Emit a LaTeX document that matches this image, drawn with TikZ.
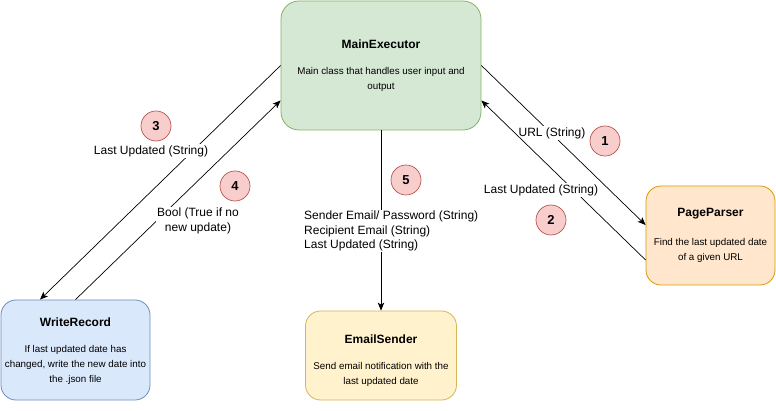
\documentclass[tikz,border=0pt]{standalone}
\usepackage{fontspec}
\setmainfont{Liberation Sans}
\usetikzlibrary{arrows.meta}
\definecolor{gfill}{HTML}{D5E8D4}\definecolor{gdraw}{HTML}{82B366}
\definecolor{ofill}{HTML}{FFE6CC}\definecolor{odraw}{HTML}{D79B00}
\definecolor{bfill}{HTML}{DAE8FC}\definecolor{bdraw}{HTML}{6C8EBF}
\definecolor{yfill}{HTML}{FFF2CC}\definecolor{ydraw}{HTML}{D6B656}
\definecolor{rfill}{HTML}{F8CECC}\definecolor{rdraw}{HTML}{B85450}
\tikzset{
  box/.style={draw, line width=0.8pt, rounded corners=15pt, inner sep=0pt},
  ttl/.style={font=\fontsize{12}{14}\selectfont\bfseries, inner sep=0pt},
  desc/.style={font=\fontsize{9.8}{15}\selectfont, align=center, inner sep=0pt},
  lbl/.style={font=\fontsize{12}{14.5}\selectfont, fill=white, inner sep=1pt},
  num/.style={circle, draw=rdraw, fill=rfill, line width=0.7pt, minimum size=30pt, inner sep=0pt, font=\fontsize{13}{15}\selectfont\bfseries},
  conn/.style={line width=0.7pt, -{Stealth[length=8pt,width=6.5pt,inset=2pt]}}
}
\begin{document}
\begin{tikzpicture}[x=1pt,y=-1pt]
\useasboundingbox (0,0) rectangle (776,411);
% boxes
\node[box, rounded corners=18pt, fill=gfill, draw=gdraw, minimum width=200pt, minimum height=129pt] (main) at (381,65.5) {};
\node[box, fill=ofill, draw=odraw, minimum width=129pt, minimum height=99pt] (pp) at (710.5,235.5) {};
\node[box, fill=bfill, draw=bdraw, minimum width=149pt, minimum height=100pt] (wr) at (75.5,350) {};
\node[box, fill=yfill, draw=ydraw, minimum width=151pt, minimum height=89pt] (es) at (381,355.5) {};
% texts
\node[ttl] (mainT) at (381,44) {MainExecutor};
\node[desc] (mainD) at (381,79.5) {Main class that handles user input and\\output};
\node[ttl] (ppT) at (710.5,214) {PageParser};
\node[desc] (ppD) at (710.5,250) {Find the last updated date\\of a given URL};
\node[ttl] (wrT) at (75.5,322) {WriteRecord};
\node[desc] (wrD) at (75.5,364.5) {If last updated date has\\changed, write the new date into\\the .json file};
\node[ttl] (esT) at (381,339) {EmailSender};
\node[desc] (esD) at (381,374.5) {Send email notification with the\\last updated date};
% edge 1
\draw[conn] (main.east) -- ([yshift=10.5pt]pp.west);
\node[lbl] (l1) at (552,133) {URL (String)};
% edge 2
\draw[conn] ([yshift=-24.5pt]pp.west) -- ([yshift=-35pt]main.east);
\node[lbl] (l2) at (541,190) {Last Updated (String)};
% edge 3
\draw[conn] (main.west) -- ([xshift=-35.5pt]wr.north);
\node[lbl] (l3) at (151,151) {Last Updated (String)};
% edge 4
\draw[conn] (wr.north) -- ([yshift=-35pt]main.west);
\node[lbl, align=center] (l4) at (198,221) {Bool (True if no\\new update)};
% edge 5
\draw[conn] (main.south) -- (es.north);
\node[lbl, align=left, anchor=west] (l5) at (303,231) {Sender Email/ Password (String)\\Recipient Email (String)\\Last Updated (String)};
% number circles
\node[num] (n1) at (605,141) {1};
\node[num] (n2) at (551,220) {2};
\node[num] (n3) at (156,126) {3};
\node[num] (n4) at (235,186) {4};
\node[num] (n5) at (406,180) {5};
\end{tikzpicture}
\end{document}
